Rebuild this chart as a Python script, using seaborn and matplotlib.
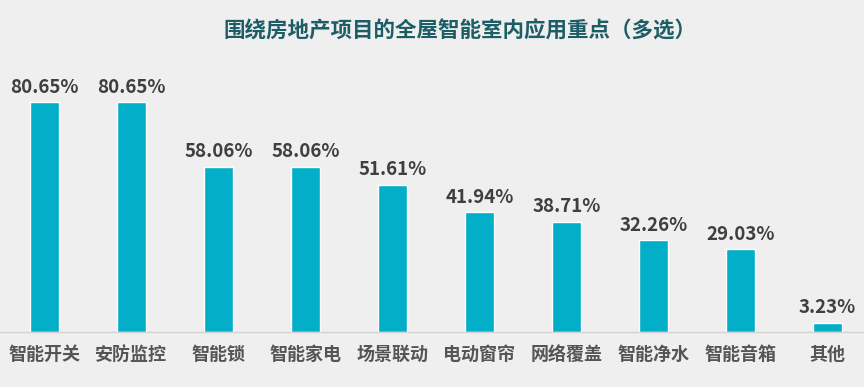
import matplotlib
matplotlib.use('Agg')
import matplotlib.pyplot as plt
import seaborn as sns
import pandas as pd

categories = ['智能开关', '安防监控', '智能锁', '智能家电', '场景联动',
              '电动窗帘', '网络覆盖', '智能净水', '智能音箱', '其他']
values = [80.65, 80.65, 58.06, 58.06, 51.61, 41.94, 38.71, 32.26, 29.03, 3.23]
title = '围绕房地产项目的全屋智能室内应用重点（多选）'

sns.set_theme(style='white')
plt.rcParams['font.family'] = ['Noto Sans CJK SC', 'DejaVu Sans']

df = pd.DataFrame({'cat': categories, 'val': values})

fig = plt.figure(figsize=(8.64, 3.87), dpi=100, facecolor='#EFEFEF')
ax = fig.add_axes([0, 55 / 387, 1, 285 / 387])
ax.set_facecolor('none')

sns.barplot(data=df, x='cat', y='val', color='#03AEC8', saturation=1,
            width=0.335, ax=ax)

ax.set_xlim(-0.511, 9.42)
ax.set_ylim(0, 100)
ax.bar_label(ax.containers[0], fmt='%.2f%%', padding=4, fontsize=13.5,
             fontweight='bold', color='#3F3F3F')

ax.axhline(0, color='#D2D2D2', lw=1, clip_on=False)
sns.despine(ax=ax, left=True, bottom=True)
ax.set_yticks([])
ax.set_xlabel('')
ax.set_ylabel('')
ax.tick_params(axis='x', length=0, pad=9)
for lab in ax.get_xticklabels():
    lab.set_fontsize(13)
    lab.set_fontweight('bold')
    lab.set_color('#555555')

fig.text(0.532, 1 - 31 / 387, title, ha='center', va='center',
         fontsize=15.5, fontweight='bold', color='#1D5E66')

fig.savefig('out.png', dpi=100, facecolor=fig.get_facecolor())
